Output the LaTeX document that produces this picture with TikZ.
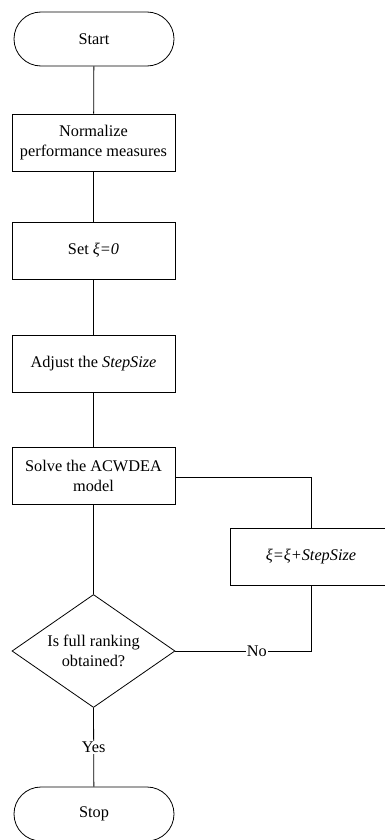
\documentclass[tikz,border=0pt]{standalone}
\usepackage{fontspec}
\setmainfont{Liberation Serif}
\usetikzlibrary{shapes.geometric}
\begin{document}
\begin{tikzpicture}[x=1bp,y=-1bp,
  every node/.style={font=\fontsize{16.3bp}{20bp}\selectfont},
  line/.style={draw=black, line width=0.8bp},
  procbox/.style={line, rectangle, minimum width=163bp, minimum height=57bp, inner sep=0pt, align=center},
  termbox/.style={line, rectangle, rounded corners=27bp, minimum width=160bp, minimum height=54bp, inner sep=0pt},
  decbox/.style={line, diamond, aspect=1.44, minimum width=163bp, minimum height=113bp, inner sep=0pt, align=center},
  lbl/.style={fill=white, inner sep=1bp}]
\useasboundingbox (0,0) rectangle (384,840);
\node[termbox] (start) at (94,39) {Start};
\node[procbox] (norm) at (93.5,142.5) {Normalize\\performance measures};
\node[procbox] (set) at (93.5,250.5) {Set \textit{ξ=0}};
\node[procbox] (adj) at (93.5,364) {Adjust the \textit{StepSize}};
\node[procbox] (solve) at (93.5,476) {Solve the ACWDEA\\model};
\node[procbox, minimum width=161bp] (inc) at (311,556.5) {\textit{ξ=ξ+StepSize}};
\node[decbox] (dec) at (93.5,651) {Is full ranking\\obtained?};
\node[termbox] (stop) at (94,814) {Stop};
\draw[line] (start) -- (norm);
\draw[line] (norm) -- (set);
\draw[line] (set) -- (adj);
\draw[line] (adj) -- (solve);
\draw[line] (solve) -- (dec);
\draw[line] (dec.south) -- node[lbl] {Yes} (stop);
\draw[line] (solve.east |- 0,477) -| (inc.north);
\draw[line] (dec.east) -- node[lbl, pos=0.6] {No} (dec.east -| inc.south) -- (inc.south);
\end{tikzpicture}
\end{document}
